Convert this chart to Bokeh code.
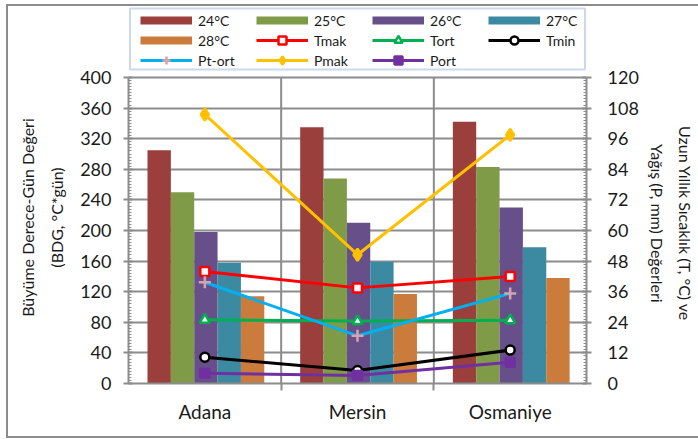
from bokeh.plotting import figure
from bokeh.models import (Range1d, LinearAxis, FixedTicker, SingleIntervalTicker,
                          Legend, LegendItem, Grid, ColumnDataSource, BoxAnnotation)
from bokeh.transform import dodge
from bokeh.embed import file_html
from bokeh.resources import INLINE

# Provinces on the category axis
cities = ["Adana", "Mersin", "Osmaniye"]

# Growing degree-day totals (BDG, °C*gün) for each base temperature
bdg_24 = [305, 335, 342]
bdg_25 = [250, 268, 283]
bdg_26 = [198, 210, 230]
bdg_27 = [158, 159, 178]
bdg_28 = [114, 117, 138]

# Long-term temperature (°C) and precipitation (mm) values, right axis
t_mak = [43.9, 37.5, 42.0]
t_ort = [25.0, 24.5, 24.8]
t_min = [10.3, 5.1, 13.1]
pt_ort = [39.7, 18.7, 35.3]
p_mak = [105.5, 50.5, 97.5]
p_ort = [4.0, 3.1, 8.3]

# axis limits
left_max, left_step = 400, 40
right_max, right_step = 120, 12

bar_labels = ["24°C", "25°C", "26°C", "27°C", "28°C"]
bar_colors = ["#9B3F3D", "#7F9B48", "#67508A", "#3C8AA2", "#CB7B3B"]

FONT = "Lato"
GRID = "#8c8c8c"
TXT = "#1a1a1a"

# plot frame reaches up to the legend; the value axes stop at their maxima
FRAME_W = 462
FRAME_H = 377
AXIS_H = 306
top_factor = FRAME_H / AXIS_H
# legend frame edges, in pixels above the zero line
LEG_TOP_PX, LEG_BOTTOM_PX = 375, 314

xs = list(range(len(cities)))
src = ColumnDataSource(dict(
    x=xs, b24=bdg_24, b25=bdg_25, b26=bdg_26, b27=bdg_27, b28=bdg_28,
    tmak=t_mak, tort=t_ort, tmin=t_min, ptort=pt_ort, pmak=p_mak, port=p_ort,
))

p = figure(width=692, height=434,
           x_range=Range1d(-0.5, len(cities) - 0.5),
           y_range=Range1d(0, left_max * top_factor),
           x_axis_type=None, y_axis_type=None,
           output_backend="svg", toolbar_location=None,
           min_border_left=122, min_border_right=108,
           min_border_top=2, min_border_bottom=55)
p.extra_y_ranges = {"right": Range1d(0, right_max * top_factor)}
p.outline_line_color = None
p.border_fill_color = None
p.background_fill_color = "white"
p.margin = (4, 0, 0, 6)
p.styles = {"background-color": "white",
            "box-shadow": "inset 2px 2px 0 #8c8c8c, inset 0 -2px 0 #8c8c8c"}

# gridlines: horizontal every 40, vertical between provinces
p.add_layout(Grid(dimension=1, ticker=SingleIntervalTicker(interval=left_step),
                  bounds=(0, left_max),
                  grid_line_color=GRID, grid_line_width=2))
bounds_x = [x + 0.5 for x in xs[:-1]]
p.segment(x0=bounds_x, x1=bounds_x, y0=[0] * len(bounds_x),
          y1=[left_max] * len(bounds_x), line_color=GRID, line_width=2)

# bars
bw = 0.153
keys = ["b24", "b25", "b26", "b27", "b28"]
for k, (key, col) in enumerate(zip(keys, bar_colors)):
    p.vbar(x=dodge("x", (k - 2) * bw + 0.007, range=p.x_range), top=key, width=bw,
           source=src, fill_color=col, line_color=None)

# lines with markers (right axis)
series = [
    ("tmak", "Tmak", "#FF0000", "square", "white", "#FF0000", 9),
    ("tort", "Tort", "#00B050", "triangle", "white", "#00B050", 10),
    ("tmin", "Tmin", "#000000", "circle", "white", "#000000", 9),
    ("ptort", "Pt-ort", "#00B0F0", "cross", "#D9A3AE", "#D9A3AE", 12),
    ("pmak", "Pmak", "#FFC000", "diamond", "#FFC000", "#FFC000", 12),
    ("port", "Port", "#7030A0", "square", "#7030A0", "#7030A0", 9),
]
line_items = []
for key, lab, col, mk, fc, lc, sz in series:
    lr = p.line(x="x", y=key, source=src, line_color=col, line_width=3,
                y_range_name="right")
    mr = p.scatter(x="x", y=key, source=src, marker=mk, size=sz,
                   fill_color=fc, line_color=lc, line_width=2.5,
                   y_range_name="right")
    line_items.append(LegendItem(label=lab, renderers=[lr, mr]))

# legend swatches for bars: hidden thick strips
bar_items = []
for key, lab, col in zip(keys, bar_labels, bar_colors):
    r = p.line(x="x", y=key, source=src, line_color=col, line_width=8,
               line_cap="butt", visible=False)
    bar_items.append(LegendItem(label=lab, renderers=[r]))


def style_axis(ax):
    ax.axis_line_color = GRID
    ax.axis_line_width = 2
    ax.major_tick_line_color = GRID
    ax.major_tick_line_width = 2
    ax.minor_tick_line_color = GRID
    ax.minor_tick_line_width = 1
    ax.major_tick_in = 4
    ax.major_tick_out = 5
    ax.minor_tick_in = 3
    ax.minor_tick_out = 0
    ax.major_label_text_font = FONT
    ax.major_label_text_font_size = "18px"
    ax.major_label_text_color = TXT


def title_axis(label, rng, top, side, standoff):
    # tick-less axis that only carries the axis title
    ax = LinearAxis(y_range_name=rng, ticker=FixedTicker(ticks=[]),
                    bounds=(0, top), axis_line_color=None,
                    major_tick_line_color=None, minor_tick_line_color=None,
                    major_tick_in=0, major_tick_out=0,
                    minor_tick_in=0, minor_tick_out=0,
                    major_label_text_font_size="1px",
                    axis_label=label, axis_label_standoff=standoff,
                    axis_label_text_font=FONT,
                    axis_label_text_font_size="16px",
                    axis_label_text_font_style="normal",
                    axis_label_text_color=TXT,
                    axis_label_text_line_height=1.5)
    p.add_layout(ax, side)


# non-breaking padding keeps the rotated titles a little below the middle
NB = "\u00a0"
left_title = [t + NB * 11 for t in ("Büyüme Derece-Gün Değeri", "(BDG, °C*gün)")]
right_title = [NB * 14 + t for t in ("Uzun Yıllık Sıcaklık (T, °C) ve",
                                      "Yağış (P, mm) Değerleri")]

# value axes
yl = LinearAxis(ticker=SingleIntervalTicker(interval=left_step, num_minor_ticks=10),
                bounds=(0, left_max))
style_axis(yl)
yl.major_label_standoff = 12
p.add_layout(yl, "left")
title_axis("\n".join(left_title), "default", left_max, "left", 12)

yr = LinearAxis(y_range_name="right",
                ticker=SingleIntervalTicker(interval=right_step, num_minor_ticks=10),
                bounds=(0, right_max))
style_axis(yr)
yr.major_label_standoff = 16
p.add_layout(yr, "right")
title_axis("\n".join(right_title), "right", right_max, "right", 6)

xt = LinearAxis(ticker=FixedTicker(ticks=bounds_x),
                axis_line_color=GRID, axis_line_width=2,
                major_tick_line_color=GRID, major_tick_line_width=2,
                major_tick_in=0, major_tick_out=7,
                major_label_text_font_size="1px", major_label_text_alpha=0,
                major_label_standoff=0)
p.add_layout(xt, "below")
xl = LinearAxis(ticker=FixedTicker(ticks=xs),
                major_label_overrides={i: c for i, c in zip(xs, cities)},
                axis_line_color=None, major_tick_line_color=None,
                major_tick_in=0, major_tick_out=0,
                major_label_text_font=FONT, major_label_text_font_size="19px",
                major_label_text_color=TXT, major_label_standoff=9)
p.add_layout(xl, "below")

# legend frame (blue box) with the entries drawn on top of it
px_x = FRAME_W / len(cities)
px_y = AXIS_H / left_max
p.add_layout(BoxAnnotation(left=-0.5 + 1.5 / px_x, right=len(cities) - 0.5 - 1.5 / px_x,
                           top=LEG_TOP_PX / px_y, bottom=LEG_BOTTOM_PX / px_y,
                           fill_color="white", fill_alpha=1,
                           line_color="#4F81BD", line_width=2))

legend = Legend(items=bar_items + line_items, location=(12, 313),
                orientation="horizontal", ncols=4,
                label_text_font=FONT, label_text_font_size="14px",
                label_text_color=TXT,
                glyph_width=52, glyph_height=20, label_height=20,
                label_width=58, label_standoff=6, spacing=0,
                padding=0, margin=0, inactive_fill_alpha=0,
                border_line_color=None, background_fill_alpha=0)
p.add_layout(legend, "center")

open("out.html", "w").write(file_html(p, INLINE))
